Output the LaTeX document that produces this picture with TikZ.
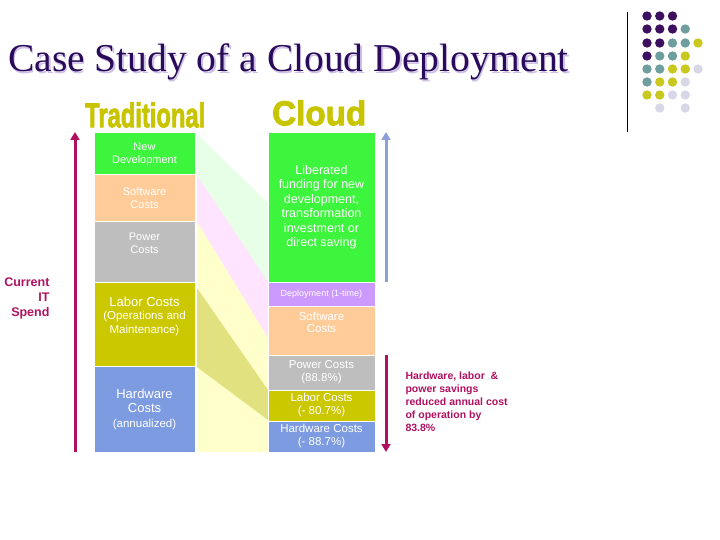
\documentclass[tikz,border=0pt]{standalone}
\usepackage{fontspec}
\setmainfont{Liberation Serif}
\setsansfont{Liberation Sans}
\newfontfamily\headfont[FakeBold=2.5]{Liberation Sans Bold}
\usepackage{graphicx}
\usetikzlibrary{arrows.meta}
\definecolor{titlepurple}{RGB}{42,10,90}
\definecolor{shadowlav}{RGB}{205,192,230}
\definecolor{headyellow}{RGB}{200,196,0}
\definecolor{newgreen}{RGB}{60,245,60}
\definecolor{peach}{RGB}{255,204,153}
\definecolor{powgray}{RGB}{190,190,190}
\definecolor{laborolive}{RGB}{204,200,0}
\definecolor{hwblue}{RGB}{125,155,225}
\definecolor{deplilac}{RGB}{204,153,255}
\definecolor{spendred}{RGB}{176,16,96}
\definecolor{cloudblue}{RGB}{140,160,215}
\definecolor{bandgreen}{RGB}{230,255,230}
\definecolor{bandpink}{RGB}{255,228,255}
\definecolor{bandyellow}{RGB}{255,255,204}
\definecolor{bandolive}{RGB}{225,225,128}
\definecolor{dpur}{RGB}{60,15,95}
\definecolor{dteal}{RGB}{110,158,158}
\definecolor{dyel}{RGB}{200,200,30}
\definecolor{dlav}{RGB}{215,215,232}

\begin{document}
\begin{tikzpicture}[x=1pt, y=-1pt,
  blk/.style={draw=white, line width=1pt, inner sep=0pt, outer sep=0pt, text=white, align=center, font=\sffamily},
  lblk/.style={blk, minimum width=101pt},
  rblk/.style={blk, minimum width=107pt},
  spend/.style={line width=3pt, spendred, -{Triangle[width=9pt,length=8pt]}}]
  \useasboundingbox (0,0) rectangle (720,540);
  % Titulo
  \node[anchor=base west, inner sep=0pt, text=shadowlav, font=\fontsize{39.5}{44}\selectfont] (titleshadow) at (9.5,73.5) {Case Study of a Cloud Deployment};
  \node[anchor=base west, inner sep=0pt, text=titlepurple, font=\fontsize{39.5}{44}\selectfont] (title) at (8,72) {Case Study of a Cloud Deployment};
  % Decoracion (puntos)
  \draw[black, line width=0.8pt] (627,12) -- (627,132);
  \foreach \y/\row in {16/{1/dpur,2/dpur,3/dpur},
                       29/{1/dpur,2/dpur,3/dpur,4/dteal},
                       43/{1/dpur,2/dpur,3/dteal,4/dteal,5/dyel},
                       56/{1/dpur,2/dteal,3/dteal,4/dyel},
                       69/{1/dteal,2/dteal,3/dyel,4/dyel,5/dlav},
                       82/{1/dteal,2/dyel,3/dyel,4/dlav},
                       95/{1/dyel,2/dyel,3/dlav,4/dlav},
                       108/{2/dlav,4/dlav}} {
    \foreach \c/\col in \row {
      \fill[\col] (634.25+12.75*\c, \y) circle (4.7);
    }
  }
  % Encabezados
  \node[anchor=north west, inner sep=0pt, text=headyellow, font=\headfont] (headtrad) at (85,102) {\resizebox{120pt}{25pt}{Traditional}};
  \node[anchor=north west, inner sep=0pt, text=headyellow, font=\headfont] (headcloud) at (272,100) {\resizebox{94pt}{25pt}{Cloud}};
  % Bandas entre columnas
  \fill[bandgreen] (197,134) -- (268,203) -- (268,282) -- (197,175) -- cycle;
  \fill[bandpink] (197,175) -- (268,282) -- (268,338) -- (197,222) -- cycle;
  \fill[bandyellow] (197,222) -- (268,338) -- (268,452) -- (197,452) -- cycle;
  \fill[bandolive] (197,288) -- (268,390) -- (268,420) -- (197,367) -- cycle;
  % Columna tradicional
  \node[lblk, fill=newgreen, minimum height=42pt, font=\sffamily\fontsize{11}{13}\selectfont] (lnew) at (144.5,154) {New\\Development};
  \node[lblk, fill=peach, minimum height=47pt, font=\sffamily\fontsize{11}{13}\selectfont] (lsoft) at (144.5,198.5) {Software\\Costs};
  \node[lblk, fill=powgray, minimum height=60pt, font=\sffamily\fontsize{11}{12.5}\selectfont] (lpow) at (144.5,252) {Power\\Costs\\[5pt]};
  \node[lblk, fill=laborolive, minimum height=84pt, font=\sffamily\fontsize{11.5}{13.5}\selectfont] (llab) at (144.5,324) {{\fontsize{13}{14}\selectfont Labor Costs}\\(Operations and\\Maintenance)\\[4pt]};
  \node[lblk, fill=hwblue, minimum height=86pt, font=\sffamily\fontsize{11.5}{14.5}\selectfont] (lhw) at (144.5,409) {{\fontsize{13}{14}\selectfont Hardware}\\{\fontsize{13}{14}\selectfont Costs}\\(annualized)};
  % Columna cloud
  \node[rblk, fill=newgreen, minimum height=149pt, font=\sffamily\fontsize{12.5}{14.5}\selectfont] (rlib) at (321.5,207.5) {Liberated\\funding for new\\development,\\transformation\\investment or\\direct saving};
  \node[rblk, fill=deplilac, minimum height=24pt, font=\sffamily\fontsize{9}{11}\selectfont] (rdep) at (321.5,294) {Deployment (1-time)};
  \node[rblk, fill=peach, minimum height=49pt, font=\sffamily\fontsize{11.5}{12.5}\selectfont] (rsoft) at (321.5,330.5) {Software\\Costs\\[4pt]};
  \node[rblk, fill=powgray, minimum height=35pt, font=\sffamily\fontsize{11.5}{13}\selectfont] (rpow) at (321.5,372.5) {Power Costs\\(88.8\%)};
  \node[rblk, fill=laborolive, minimum height=31pt, font=\sffamily\fontsize{11.5}{13}\selectfont] (rlab) at (321.5,405.5) {Labor Costs\\(- 80.7\%)};
  \node[rblk, fill=hwblue, minimum height=31pt, font=\sffamily\fontsize{11.5}{13}\selectfont] (rhw) at (321.5,436.5) {Hardware Costs\\(- 88.7\%)};
  % Flechas
  \coordinate (spendbot) at (75,452);
  \coordinate (spendtop) at (75,132);
  \coordinate (cloudbot) at (386,282);
  \coordinate (cloudtop) at (386,132);
  \coordinate (savetop) at (386,355);
  \coordinate (savebot) at (386,452);
  \draw[spend] (spendbot) -- (spendtop);
  \draw[spend, cloudblue] (cloudbot) -- (cloudtop);
  \draw[spend] (savetop) -- (savebot);
  % Etiquetas laterales
  \node[anchor=east, align=right, text=spendred, font=\sffamily\bfseries\fontsize{12.5}{15}\selectfont] (spendlbl) at (53,298) {Current\\IT\\Spend};
  \node[anchor=west, align=left, text=spendred, font=\sffamily\bfseries\fontsize{10.5}{13}\selectfont] (savelbl) at (402,402) {Hardware, labor \ \&\\power savings\\reduced annual cost\\of operation by\\83.8\%};
\end{tikzpicture}
\end{document}
